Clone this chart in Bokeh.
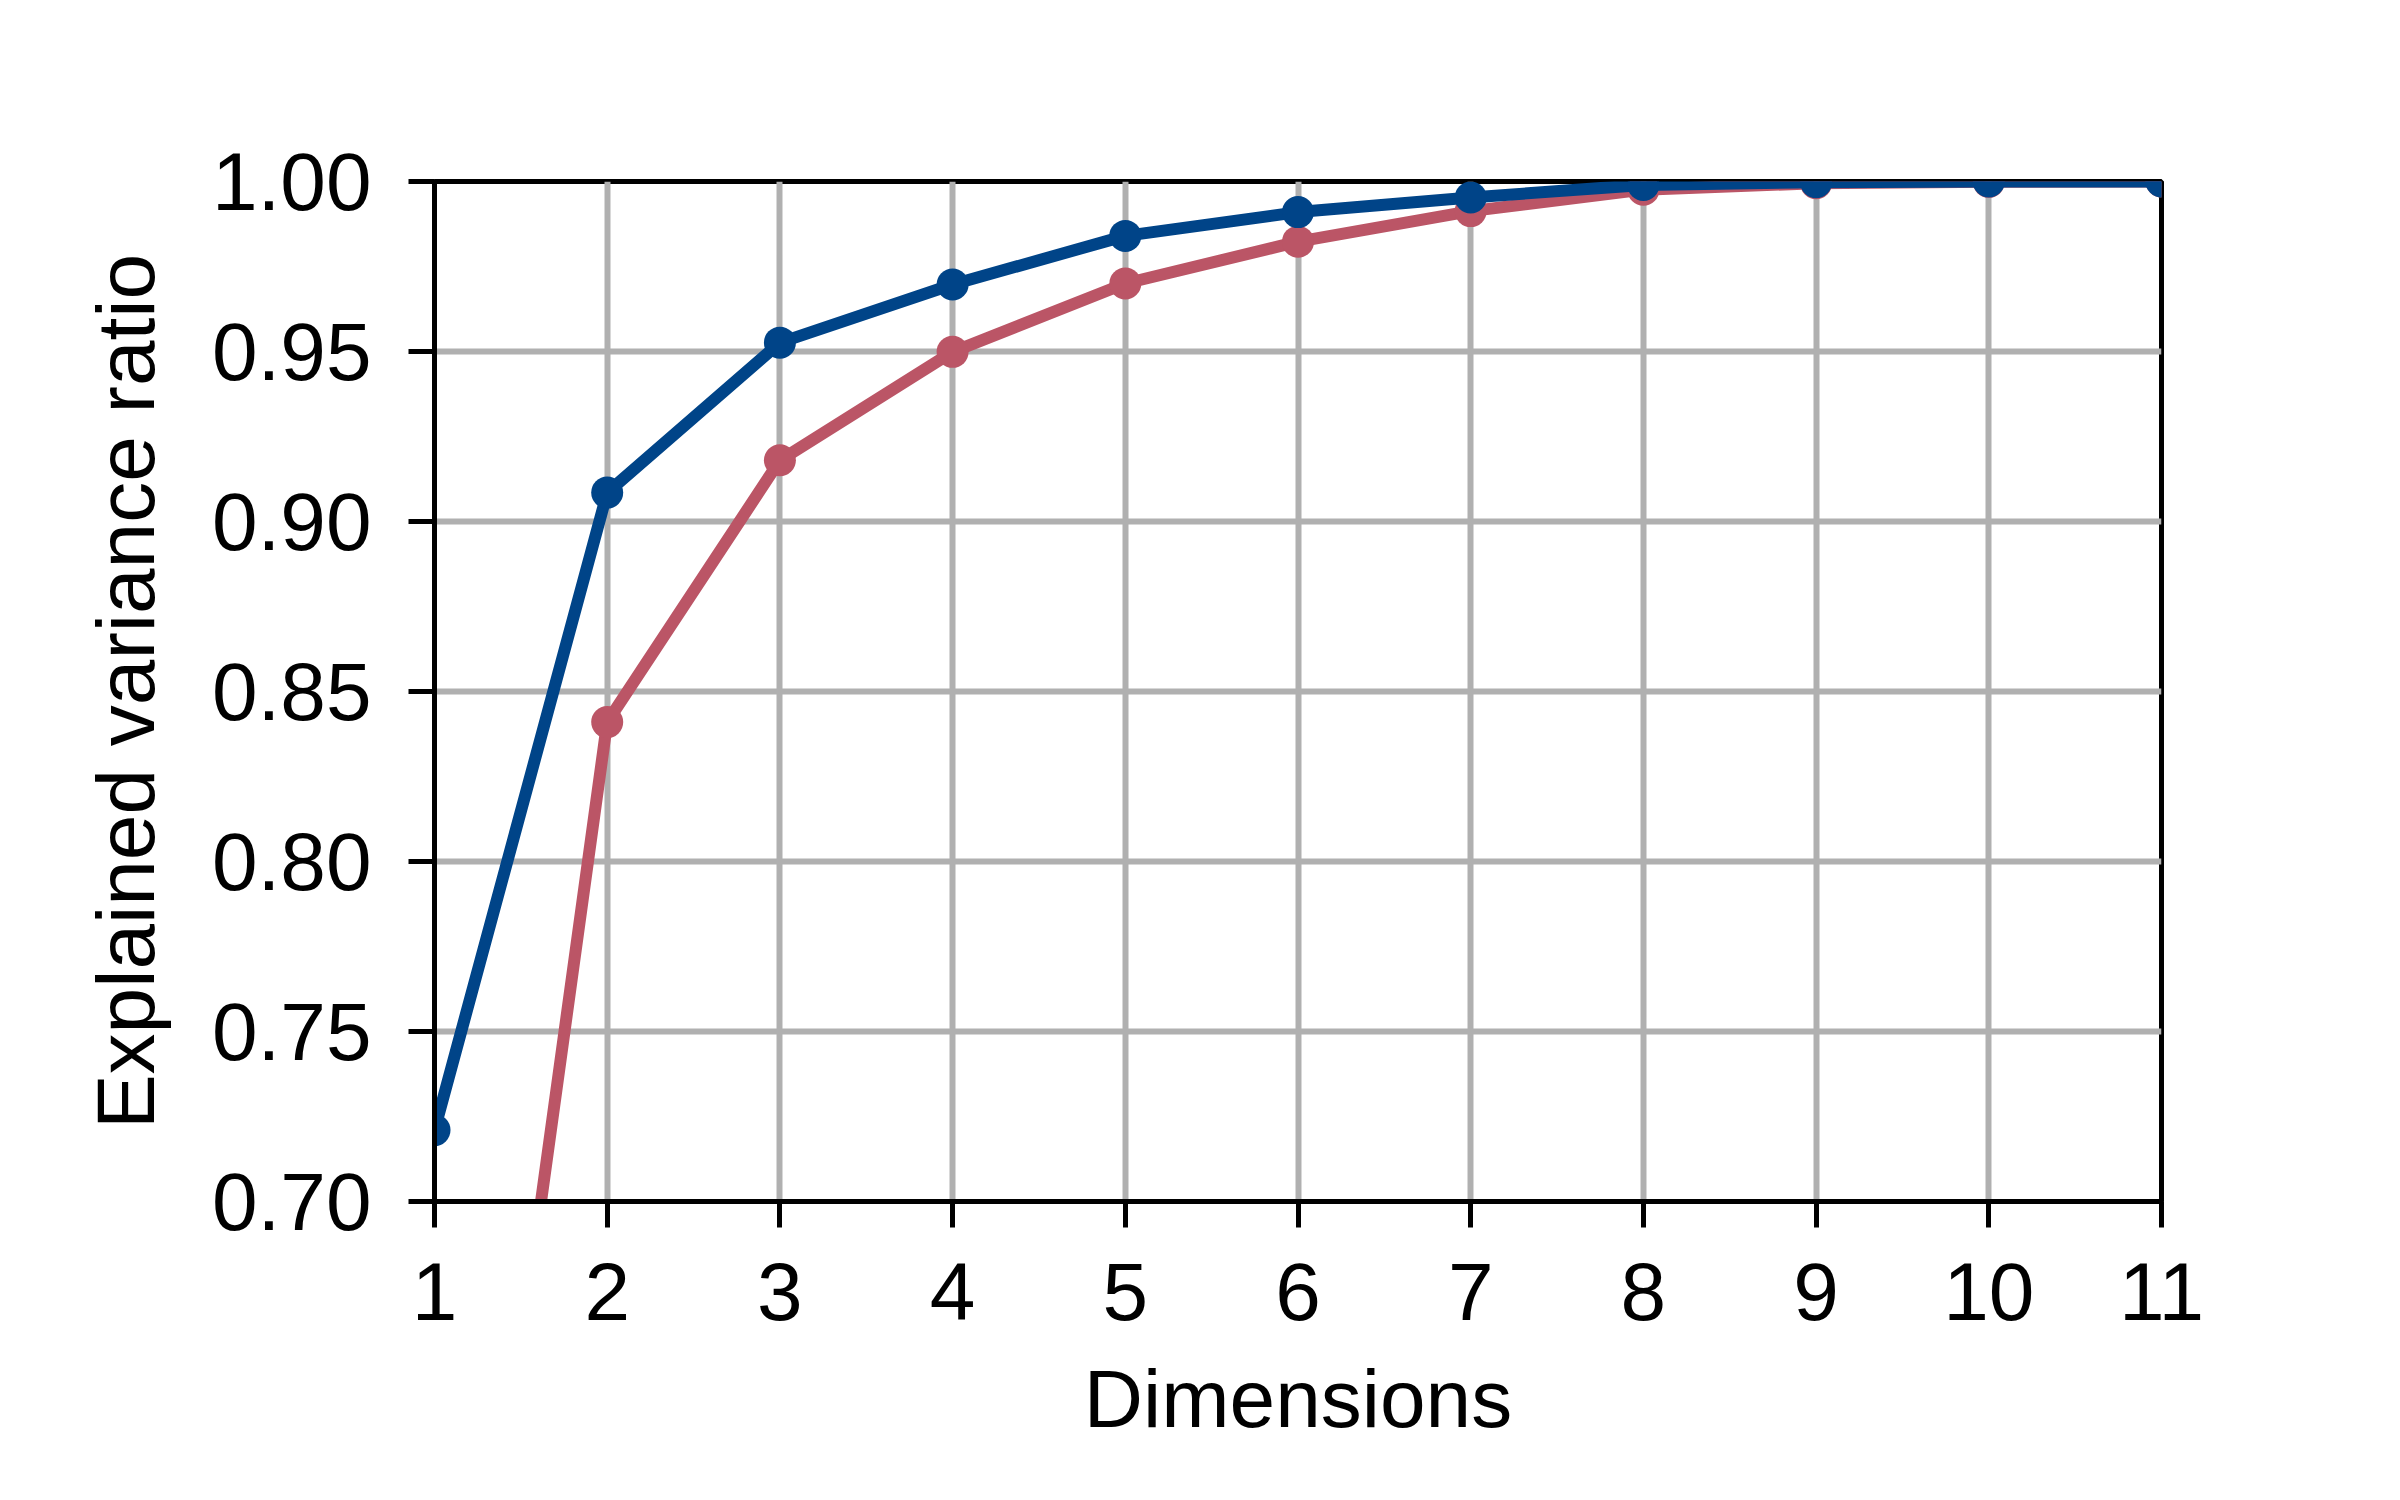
from bokeh.plotting import figure
from bokeh.models import FixedTicker, PrintfTickFormatter
from bokeh.embed import file_html
from bokeh.resources import INLINE

dims = [1, 2, 3, 4, 5, 6, 7, 8, 9, 10, 11]
blue_vals = [0.721, 0.9085, 0.9526, 0.9697, 0.984, 0.991, 0.9953, 0.9990, 0.9998, 1.0, 1.0]
red_vals = [0.473, 0.841, 0.918, 0.9499, 0.970, 0.9823, 0.9913, 0.9976, 0.9995, 0.9999, 1.0]
y_ticks = [0.70, 0.75, 0.80, 0.85, 0.90, 0.95, 1.00]

BLUE = "#004488"
RED = "#BB5566"
FONT = "Liberation Sans"

p = figure(
    frame_width=1727, frame_height=1020,
    min_border_left=434, min_border_right=223,
    min_border_top=181, min_border_bottom=283,
    x_range=(1, 11), y_range=(0.70, 1.00),
    output_backend="svg", toolbar_location=None,
)
p.background_fill_color = "white"
p.border_fill_color = "white"
p.outline_line_color = "black"
p.outline_line_width = 5

p.xaxis.ticker = FixedTicker(ticks=dims)
p.yaxis.ticker = FixedTicker(ticks=y_ticks)
p.yaxis.formatter = PrintfTickFormatter(format="%.2f")

for ax in (p.xaxis[0], p.yaxis[0]):
    ax.axis_line_color = "black"
    ax.axis_line_width = 5
    ax.major_tick_line_color = "black"
    ax.major_tick_line_width = 5
    ax.major_tick_out = 26
    ax.major_tick_in = 0
    ax.minor_tick_line_color = None
    ax.major_label_text_font = FONT
    ax.major_label_text_font_size = "82px"
    ax.major_label_text_color = "black"
    ax.axis_label_text_font = FONT
    ax.axis_label_text_font_size = "82px"
    ax.axis_label_text_font_style = "normal"
    ax.axis_label_text_color = "black"

p.xaxis.axis_label = "Dimensions"
p.yaxis.axis_label = "Explained variance ratio"
p.xaxis.major_label_standoff = 35
p.yaxis.major_label_standoff = 37
p.xaxis.axis_label_standoff = 30
p.yaxis.axis_label_standoff = 38

p.xgrid.grid_line_color = "#b0b0b0"
p.ygrid.grid_line_color = "#b0b0b0"
p.xgrid.grid_line_width = 6
p.ygrid.grid_line_width = 6

p.line(dims, red_vals, line_color=RED, line_width=12)
p.scatter(dims, red_vals, size=32, fill_color=RED, line_color=None)
p.line(dims, blue_vals, line_color=BLUE, line_width=12)
p.scatter(dims, blue_vals, size=32, fill_color=BLUE, line_color=None)

open("out.html", "w").write(file_html(p, INLINE))
